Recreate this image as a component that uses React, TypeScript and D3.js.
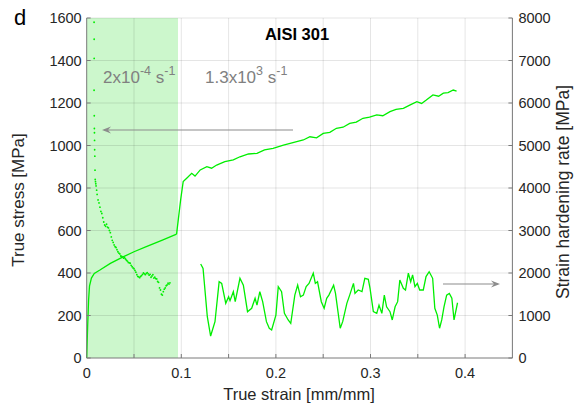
import React, { useEffect, useRef } from "react";
import * as d3 from "d3";

// quasi-static (2x10^-4 s^-1) true stress-strain
const qsStrain = [0, 0.001, 0.002, 0.003, 0.005, 0.008, 0.014, 0.025, 0.039, 0.05, 0.063, 0.08, 0.095];
const qsStress = [0, 150, 273, 340, 376, 398, 414, 445, 477, 500, 524, 555, 583];

// high rate (1.3x10^3 s^-1) true stress-strain
const hrStressStrain = [0.095, 0.0993, 0.102, 0.1057, 0.111, 0.1145, 0.12, 0.127, 0.132, 0.1374, 0.146, 0.155, 0.162, 0.171, 0.18, 0.188, 0.197, 0.208, 0.218, 0.229, 0.236, 0.243, 0.25, 0.257, 0.264, 0.271, 0.278, 0.285, 0.292, 0.299, 0.3066, 0.313, 0.3206, 0.327, 0.3347, 0.342, 0.349, 0.354, 0.359, 0.366, 0.372, 0.377, 0.382, 0.3875, 0.391];
const hrStress = [583, 744, 830, 846, 869, 856, 885, 900, 893, 908, 924, 932, 947, 960, 963, 979, 987, 1002, 1013, 1026, 1041, 1036, 1057, 1062, 1081, 1086, 1104, 1110, 1128, 1133, 1144, 1140, 1159, 1170, 1175, 1191, 1206, 1198, 1214, 1238, 1232, 1246, 1249, 1261, 1256];

// quasi-static strain hardening rate (dots)
const qsHardStrain = [0.0078, 0.0079, 0.0079, 0.0078, 0.008, 0.0081, 0.0082, 0.0083, 0.0084, 0.0086, 0.0088, 0.009, 0.0093, 0.0096, 0.0099, 0.0105, 0.011, 0.012, 0.013, 0.014, 0.015, 0.016, 0.017, 0.018, 0.019, 0.02, 0.021, 0.022, 0.023, 0.024, 0.025, 0.026, 0.027, 0.028, 0.029, 0.03, 0.031, 0.032, 0.033, 0.034, 0.035, 0.036, 0.037, 0.038, 0.039, 0.04, 0.041, 0.042, 0.043, 0.044, 0.045, 0.046, 0.047, 0.048, 0.049, 0.05, 0.051, 0.052, 0.053, 0.054, 0.055, 0.056, 0.057, 0.058, 0.059, 0.06, 0.061, 0.062, 0.063, 0.064, 0.065, 0.066, 0.067, 0.068, 0.069, 0.07, 0.071, 0.072, 0.073, 0.074, 0.075, 0.076, 0.077, 0.078, 0.079, 0.08, 0.081, 0.082, 0.083, 0.084, 0.085, 0.086, 0.087, 0.088];
const qsHardRate = [7900, 7500, 7050, 6300, 5700, 5400, 5300, 5120, 4900, 4750, 4420, 4200, 4150, 4100, 4050, 3950, 3850, 3720, 3650, 3550, 3450, 3400, 3300, 3200, 3130, 3100, 3150, 3080, 3060, 3000, 2950, 2850, 2770, 2720, 2660, 2620, 2600, 2550, 2500, 2470, 2450, 2400, 2390, 2380, 2350, 2360, 2330, 2300, 2280, 2250, 2240, 2230, 2180, 2150, 2120, 2100, 2060, 2020, 1960, 1920, 1910, 1890, 1920, 1940, 1970, 2000, 1980, 1960, 1990, 2010, 1980, 1950, 1970, 1900, 1930, 1960, 1880, 1900, 1870, 1860, 1800, 1780, 1650, 1600, 1500, 1480, 1560, 1620, 1650, 1700, 1720, 1760, 1740, 1770];

// high rate strain hardening rate
const hrHardStrain = [0.1205, 0.123, 0.1275, 0.131, 0.1356, 0.14, 0.1427, 0.147, 0.15, 0.1515, 0.155, 0.157, 0.162, 0.1656, 0.17, 0.1744, 0.178, 0.18, 0.183, 0.186, 0.19, 0.193, 0.1955, 0.2, 0.2025, 0.206, 0.209, 0.213, 0.2157, 0.22, 0.223, 0.226, 0.229, 0.232, 0.235, 0.2395, 0.2417, 0.244, 0.248, 0.251, 0.2537, 0.256, 0.261, 0.263, 0.268, 0.2706, 0.275, 0.278, 0.282, 0.2836, 0.287, 0.291, 0.294, 0.2977, 0.2995, 0.303, 0.3066, 0.309, 0.312, 0.3146, 0.317, 0.3206, 0.323, 0.326, 0.3287, 0.331, 0.3347, 0.337, 0.34, 0.3425, 0.3445, 0.347, 0.3495, 0.352, 0.3558, 0.3587, 0.362, 0.3657, 0.368, 0.3706, 0.373, 0.3753, 0.3777, 0.3805, 0.3833, 0.386, 0.3883, 0.392];
const hrHardRate = [2212, 2110, 972, 517, 854, 1795, 1757, 1287, 1442, 1350, 1560, 1325, 1875, 1715, 1090, 1170, 1405, 1245, 1560, 1325, 855, 700, 660, 1010, 1680, 1560, 1050, 895, 815, 1480, 1715, 1440, 1480, 1680, 1755, 1995, 1755, 1795, 1325, 1170, 1405, 1480, 1715, 1520, 700, 855, 1285, 1480, 1755, 1520, 1600, 1560, 1875, 1850, 1640, 1090, 1050, 1245, 1050, 1480, 1205, 1090, 895, 1205, 1325, 1835, 1640, 1600, 1995, 1795, 1955, 1680, 1755, 1600, 1600, 1915, 2030, 1875, 1170, 1010, 700, 895, 1205, 1480, 1520, 1405, 895, 1300];

const xTicks = [0, 0.1, 0.2, 0.3, 0.4];
const xGrid = [0.05, 0.1, 0.15, 0.2, 0.25, 0.3, 0.35, 0.4, 0.45];
const leftTicks = [0, 200, 400, 600, 800, 1000, 1200, 1400, 1600];
const rightTicks = [0, 1000, 2000, 3000, 4000, 5000, 6000, 7000, 8000];

const W = 579;
const H = 410;
const green = "#00ee00";
const axisColor = "#7a7a7a";
const font = "'Liberation Sans', Arial, sans-serif";

export default function App() {
  const ref = useRef<SVGSVGElement>(null);

  useEffect(() => {
    const svg = d3.select(ref.current);
    svg.selectAll("*").remove();

    const x = d3.scaleLinear().domain([0, 0.45]).range([86.7, 512.4]);
    const yL = d3.scaleLinear().domain([0, 1600]).range([358, 18]);
    const yR = d3.scaleLinear().domain([0, 8000]).range([358, 18]);

    // shaded quasi-static region
    svg.append("rect")
      .attr("x", x(0)).attr("y", yL(1600))
      .attr("width", x(0.0965) - x(0)).attr("height", yL(0) - yL(1600))
      .attr("fill", "#ccf7cc");

    // grid
    const g = svg.append("g").attr("stroke", "#000").attr("stroke-opacity", 0.1).attr("stroke-width", 1);
    g.selectAll("line.gx").data(xGrid).join("line")
      .attr("x1", (d) => x(d)).attr("x2", (d) => x(d))
      .attr("y1", yL(0)).attr("y2", yL(1600));
    g.selectAll("line.gy").data(leftTicks.slice(1)).join("line")
      .attr("x1", x(0)).attr("x2", x(0.45))
      .attr("y1", (d) => yL(d)).attr("y2", (d) => yL(d));

    // curves
    const mk = (xs: number[], ys: number[], yScale: d3.ScaleLinear<number, number>) =>
      d3.line<number>().x((d) => x(d)).y((d, i) => yScale(ys[i]))(xs);

    svg.append("path").attr("d", mk(qsStrain, qsStress, yL))
      .attr("fill", "none").attr("stroke", green).attr("stroke-width", 1.3);
    svg.append("path").attr("d", mk(hrStressStrain, hrStress, yL))
      .attr("fill", "none").attr("stroke", green).attr("stroke-width", 1.3);
    svg.append("path").attr("d", mk(hrHardStrain, hrHardRate, yR))
      .attr("fill", "none").attr("stroke", green).attr("stroke-width", 1.3);
    svg.append("g").selectAll("circle").data(qsHardStrain).join("circle")
      .attr("cx", (d) => x(d)).attr("cy", (d, i) => yR(qsHardRate[i]))
      .attr("r", 0.9).attr("fill", green);

    // axes lines
    const ax = svg.append("g").attr("stroke", axisColor).attr("stroke-width", 1);
    ax.append("line").attr("x1", x(0)).attr("x2", x(0.45)).attr("y1", yL(0)).attr("y2", yL(0));
    ax.append("line").attr("x1", x(0)).attr("x2", x(0)).attr("y1", yL(0)).attr("y2", yL(1600));
    ax.append("line").attr("x1", x(0.45)).attr("x2", x(0.45)).attr("y1", yL(0)).attr("y2", yL(1600));
    ax.selectAll("line.tx").data(xGrid.slice(0, -1)).join("line")
      .attr("x1", (d) => x(d)).attr("x2", (d) => x(d))
      .attr("y1", yL(0)).attr("y2", yL(0) - 4);
    ax.selectAll("line.tl").data(leftTicks).join("line")
      .attr("x1", x(0)).attr("x2", x(0) + 4)
      .attr("y1", (d) => yL(d)).attr("y2", (d) => yL(d));
    ax.selectAll("line.tr").data(rightTicks).join("line")
      .attr("x1", x(0.45)).attr("x2", x(0.45) - 4)
      .attr("y1", (d) => yR(d)).attr("y2", (d) => yR(d));

    const txt = svg.append("g").attr("font-family", font).attr("fill", "#262626").attr("font-size", 14.5);
    txt.selectAll("text.xl").data(xTicks).join("text")
      .attr("x", (d) => x(d)).attr("y", 378).attr("text-anchor", "middle")
      .text((d) => String(d));
    txt.selectAll("text.ll").data(leftTicks).join("text")
      .attr("x", x(0) - 5).attr("y", (d) => yL(d) + 5).attr("text-anchor", "end")
      .text((d) => String(d));
    txt.selectAll("text.rl").data(rightTicks).join("text")
      .attr("x", x(0.45) + 6).attr("y", (d) => yR(d) + 5).attr("text-anchor", "start")
      .text((d) => String(d));

    txt.append("text").attr("x", 299).attr("y", 400).attr("text-anchor", "middle")
      .attr("font-size", 16.5).text("True strain [mm/mm]");
    txt.append("text").attr("transform", "translate(24,200) rotate(-90)").attr("text-anchor", "middle")
      .attr("font-size", 17).text("True stress [MPa]");
    txt.append("text").attr("transform", "translate(569,192) rotate(-90)").attr("text-anchor", "middle")
      .attr("font-size", 17.5).text("Strain hardening rate [MPa]");
    txt.append("text").attr("x", 14).attr("y", 25).attr("font-size", 22).attr("fill", "#000").text("d");
    txt.append("text").attr("x", 297).attr("y", 40).attr("text-anchor", "middle")
      .attr("font-size", 16.5).attr("font-weight", "bold").attr("fill", "#000").text("AISI 301");

    // rate labels
    const rate = (xp: number, base: string, exp: string) => {
      const t = txt.append("text").attr("x", xp).attr("y", 83).attr("font-size", 17).attr("fill", "#808080");
      t.append("tspan").text(base);
      t.append("tspan").attr("dy", -8).attr("font-size", 12.5).text(exp);
      t.append("tspan").attr("dy", 8).text(" s");
      t.append("tspan").attr("dy", -8).attr("font-size", 12.5).text("-1");
    };
    rate(103, "2x10", "-4");
    rate(205, "1.3x10", "3");

    // arrows
    const arrow = (x1: number, x2: number, y: number) => {
      const dir = Math.sign(x2 - x1);
      svg.append("line").attr("x1", x1).attr("x2", x2 - dir * 2).attr("y1", y).attr("y2", y)
        .attr("stroke", "#8c8c8c").attr("stroke-width", 1.2);
      svg.append("path")
        .attr("d", `M${x2},${y} L${x2 - dir * 9},${y - 3.5} L${x2 - dir * 6},${y} L${x2 - dir * 9},${y + 3.5} Z`)
        .attr("fill", "#8c8c8c");
    };
    arrow(293, 102, 130);
    arrow(443, 500, 284);
  }, []);

  return (
    <svg ref={ref} width={W} height={H}
      style={{ position: "absolute", left: 0, top: 0, background: "#fff" }} />
  );
}
